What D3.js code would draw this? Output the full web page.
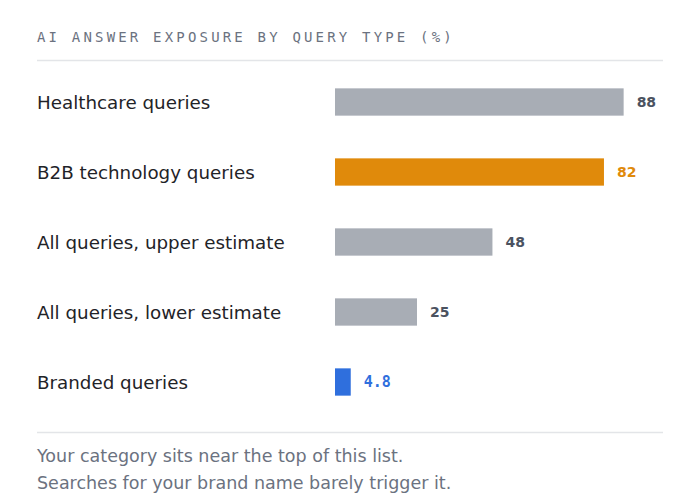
<!DOCTYPE html>
<html>
<head>
<meta charset="utf-8">
<script src="https://cdn.jsdelivr.net/npm/d3@7"></script>
<style>
  html, body { margin: 0; padding: 0; background: #ffffff; }
  svg { display: block; }
</style>
</head>
<body>
<svg id="chart"></svg>
<script>
const categories = [
    'Healthcare queries',
    'B2B technology queries',
    'All queries, upper estimate',
    'All queries, lower estimate',
    'Branded queries'
];
const values = [88, 82, 48, 25, 4.8];
const valueLabels = ['88', '82', '48', '25', '4.8'];
const highlight = ['none', 'category', 'none', 'none', 'brand'];

const title = 'AI ANSWER EXPOSURE BY QUERY TYPE (%)';
const notes = [
    'Your category sits near the top of this list.',
    'Searches for your brand name barely trigger it.'
];

const width = 700;
const height = 502;
const margin = ({top: 67, right: 37, bottom: 70, left: 37});
const barLeft = 335;

const barColor = {none: '#a8adb5', category: '#e08a0b', brand: '#2f6fdd'};
const textColor = {none: '#4b5260', category: '#e08a0b', brand: '#2f6fdd'};

const svg = d3.select('#chart')
    .attr('width', width)
    .attr('height', height);

const xScale = d3.scaleLinear()
    .domain([0, 100])
    .range([barLeft, width - margin.right]);

const yScale = d3.scaleBand()
    .domain(categories)
    .range([margin.top, margin.top + 350])
    .paddingInner(0.61)
    .paddingOuter(0.305);

// title + rule
svg.append('text')
    .attr('x', margin.left)
    .attr('y', 42)
    .attr('font-family', 'DejaVu Sans Mono, monospace')
    .attr('font-size', 14)
    .attr('letter-spacing', 3.18)
    .attr('fill', '#6b7280')
    .text(title);

svg.append('line')
    .attr('x1', margin.left)
    .attr('x2', width - margin.right)
    .attr('y1', 60.5)
    .attr('y2', 60.5)
    .attr('stroke', '#e3e5e8')
    .attr('stroke-width', 1.5);

const rows = svg.append('g')
    .selectAll('g')
    .data(categories)
    .join('g')
    .attr('class', 'row');

rows.append('text')
    .attr('x', margin.left)
    .attr('y', d => yScale(d) + yScale.bandwidth() / 2)
    .attr('dy', '0.36em')
    .attr('font-family', 'DejaVu Sans, sans-serif')
    .attr('font-size', 18.3)
    .attr('fill', '#1f2328')
    .text(d => d);

rows.append('rect')
    .attr('x', xScale(0))
    .attr('y', d => yScale(d))
    .attr('width', (d, i) => xScale(values[i]) - xScale(0))
    .attr('height', yScale.bandwidth())
    .attr('fill', (d, i) => barColor[highlight[i]]);

rows.append('text')
    .attr('x', (d, i) => xScale(values[i]) + 13)
    .attr('y', d => yScale(d) + yScale.bandwidth() / 2)
    .attr('dy', '0.36em')
    .attr('font-family', (d, i) => highlight[i] === 'brand' ? 'DejaVu Sans Mono, monospace' : 'DejaVu Sans, sans-serif')
    .attr('font-weight', 'bold')
    .attr('font-size', (d, i) => highlight[i] === 'brand' ? 15 : 14)
    .attr('fill', (d, i) => textColor[highlight[i]])
    .text((d, i) => valueLabels[i]);

// footer
svg.append('line')
    .attr('x1', margin.left)
    .attr('x2', width - margin.right)
    .attr('y1', 432.5)
    .attr('y2', 432.5)
    .attr('stroke', '#e3e5e8')
    .attr('stroke-width', 1.5);

svg.append('g')
    .selectAll('text')
    .data(notes)
    .join('text')
    .attr('x', margin.left)
    .attr('y', (d, i) => 462 + i * 27)
    .attr('font-family', 'DejaVu Sans, sans-serif')
    .attr('font-size', 17.5)
    .attr('fill', '#6b7280')
    .text(d => d);
</script>
</body>
</html>
